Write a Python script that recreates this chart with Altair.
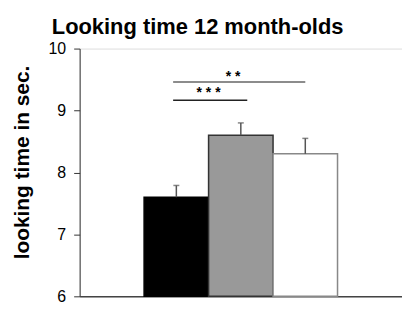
import altair as alt
import pandas as pd

conditions = ["A", "B", "C"]
x_start = [1, 2, 3]
x_end = [2, 3, 4]
means = [7.6, 8.6, 8.3]
upper = [7.79, 8.80, 8.55]
fills = ["#000000", "#999999", "#ffffff"]
strokes = ["#000000", "#333333", "#888888"]

sig_labels = ["* *", "* * *"]
sig_x1 = [1.45, 1.45]
sig_x2 = [3.5, 2.6]
sig_y = [9.46, 9.165]
sig_text_x = [2.38, 2.0]
sig_text_y = [9.47, 9.22]
sig_colors = ["#666666", "#222222"]

FONT = "Liberation Sans"

bars_df = pd.DataFrame({
    "cond": conditions, "x1": x_start, "x2": x_end, "mean": means,
    "upper": upper, "base": [6] * 3,
    "center": [(a + b) / 2 for a, b in zip(x_start, x_end)],
})
sig_df = pd.DataFrame({
    "label": sig_labels, "x1": sig_x1, "x2": sig_x2, "y": sig_y,
    "tx": sig_text_x, "ty": sig_text_y, "c": sig_colors,
})

xs = alt.Scale(domain=[0, 5], nice=False, zero=False)
ys = alt.Scale(domain=[6, 10], nice=False, zero=False)

x_axis = alt.Axis(labels=False, ticks=False, title=None, domainColor="#444444",
                  domainWidth=1.5, grid=False)
y_axis = alt.Axis(values=[6, 7, 8, 9, 10], format="d", grid=False, tickSize=6,
                  tickColor="#333333", domainColor="#333333", labelFontSize=16,
                  labelFont=FONT, labelColor="black", labelPadding=8,
                  title="looking time in sec.", titleFont=FONT,
                  titleFontSize=21, titleFontWeight="bold", titleColor="black",
                  titleX=-47, titleY=114, titleBaseline="bottom", titleAngle=-90)

base = alt.Chart(bars_df)

bars = base.mark_rect(strokeWidth=1.5).encode(
    x=alt.X("x1:Q", scale=xs, axis=x_axis),
    x2="x2:Q",
    y=alt.Y("mean:Q", scale=ys, axis=y_axis),
    y2="base:Q",
    fill=alt.Fill("cond:N", scale=alt.Scale(domain=conditions, range=fills), legend=None),
    stroke=alt.Stroke("cond:N", scale=alt.Scale(domain=conditions, range=strokes), legend=None),
)

stems = base.mark_rule(color="#555555", strokeWidth=1.5).encode(
    x="center:Q", y="mean:Q", y2="upper:Q"
)
caps = base.mark_tick(orient="horizontal", size=6, thickness=1.5, color="#555555").encode(
    x="center:Q", y="upper:Q"
)

sig = alt.Chart(sig_df)
sig_lines = sig.mark_rule(strokeWidth=1.5).encode(
    x="x1:Q", x2="x2:Q", y="y:Q",
    color=alt.Color("c:N", scale=None),
)
sig_text = sig.mark_text(font=FONT, fontSize=14, fontWeight="bold", baseline="alphabetic",
                         align="center", color="black").encode(
    x="tx:Q", y="ty:Q", text="label:N"
)

chart = alt.layer(bars, stems, caps, sig_lines, sig_text).properties(
    width=324, height=249,
    title=alt.TitleParams("Looking time 12 month-olds", anchor="start", frame="group",
                          dx=-28, dy=19, fontSize=22, fontWeight="bold", font=FONT,
                          color="black", baseline="alphabetic", offset=4),
    autosize=alt.AutoSizeParams(type="none"),
    padding={"left": 72, "top": 40, "right": 0, "bottom": 20},
).configure_view(stroke="#aaaaaa", strokeWidth=1.5).configure(background="white")

chart.save("out.html", embed_options={"renderer": "svg", "actions": False})
